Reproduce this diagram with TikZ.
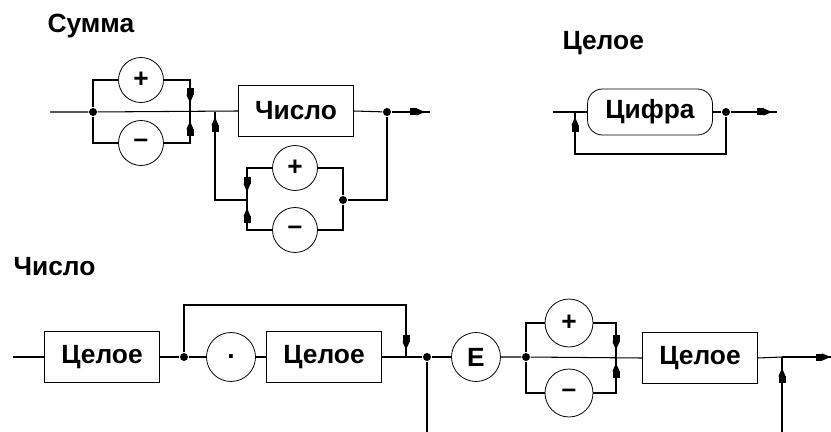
\documentclass[tikz,border=0pt]{standalone}
\usepackage{fontspec}
\setmainfont{Liberation Sans}
\usetikzlibrary{arrows.meta,decorations.markings}

\begin{document}
\begin{tikzpicture}[x=0.02cm, y=-0.02cm, line width=0.6pt, font=\fontsize{15}{18}\selectfont\bfseries]
\tikzset{
  termbox/.style={draw, rectangle, minimum width=2.3cm, minimum height=1.01cm, inner sep=0pt},
  litcirc/.style={draw, circle, minimum size=0.9cm, inner sep=0pt, line width=0.45pt},
  litround/.style={draw, rectangle, rounded corners=0.3cm, minimum width=2.5cm, minimum height=0.92cm, inner sep=0pt, line width=0.45pt},
  junct/.style={circle, fill, minimum size=0.16cm, inner sep=0pt},
  headline/.style={anchor=base west, inner sep=0pt},
  midtip/.style={postaction={decorate}, decoration={markings, mark=at position #1 with {\arrow{Square[length=1.3mm, width=1.4mm, sep=0pt] Triangle[length=1.7mm, width=1.4mm]}}}}
}
\useasboundingbox (0,0) rectangle (831,432);

\node[headline] (sT) at (47,33) {Сумма};
\coordinate (s0) at (50,112);
\node[junct] (sA) at (93,112) {};
\node[litcirc] (sP) at (141,80) {+};
\node[litcirc] (sM) at (141,143) {–};
\coordinate (sB) at (190,112);
\coordinate (sJ) at (215,112);
\node[termbox] (sN) at (296,111) {Число};
\node[junct] (sC) at (387,112) {};
\coordinate (sE) at (430,112);
\node[junct] (sD) at (343,200) {};
\node[litcirc] (sP2) at (295,168) {+};
\node[litcirc] (sM2) at (295,230) {–};
\coordinate (sF) at (247,200);

\draw (s0) -- (sA) -- (sN.west);
\draw (sA) |- (sP.west);
\draw (sA) |- (sM.west);
\draw[midtip=-0.18cm] (sP.east) -| (sB);
\draw[midtip=-0.18cm] (sM.east) -| (sB);
\draw (sN.east) -- (sC);
\draw[midtip=-0.1cm] (sC) -- (sE);
\draw (sC) |- (sD);
\draw (sD) |- (sP2.east);
\draw (sD) |- (sM2.east);
\draw[midtip=-0.16cm] (sP2.west) -| (sF);
\draw[midtip=-0.16cm] (sM2.west) -| (sF);
\draw[midtip=-0.1cm] (sF) -| (sJ);

\node[headline] (cT) at (562,50) {Целое};
\coordinate (c0) at (553,112);
\coordinate (cJ) at (575,112);
\node[litround] (cD) at (650,112) {Цифра};
\node[junct] (cA) at (726,112) {};
\coordinate (cE) at (777,112);

\draw (c0) -- (cD.west);
\draw (cD.east) -- (cA);
\draw[midtip=-0.1cm] (cA) -- (cE);
\draw[midtip=-0.1cm] (cA) -- ++(0,42) -| (cJ);

\node[headline] (nT) at (13,275) {Число};
\coordinate (n0) at (13,357);
\node[termbox] (nA) at (102,357) {Целое};
\node[junct] (nB) at (184,357) {};
\node[litcirc, minimum size=0.98cm] (nP) at (231,357) {.};
\node[termbox] (nC) at (324,357) {Целое};
\coordinate (nJ) at (406,357);
\node[junct] (nK) at (427,357) {};
\coordinate (nKd) at (427,432);
\node[litcirc, minimum size=0.98cm] (nE) at (476,357) {E};
\node[junct] (nL) at (526,357) {};
\node[litcirc, minimum size=0.96cm] (nSp) at (569,323) {+};
\node[litcirc, minimum size=0.96cm] (nSm) at (569,393) {–};
\coordinate (nR) at (616,357);
\node[termbox] (nF) at (700,358) {Целое};
\coordinate (nS) at (782,357);
\coordinate (nSd) at (782,432);
\coordinate (nEnd) at (831,357);

\draw (n0) -- (nA.west);
\draw (nA.east) -- (nB) -- (nP.west);
\draw (nP.east) -- (nC.west);
\draw (nC.east) -- (nK) -- (nE.west);
\draw[midtip=-0.14cm] (nB) -- ++(0,-52) -| (nJ);
\draw (nK) -- (nKd);
\draw (nE.east) -- (nL) -- (nF.west);
\draw (nL) |- (nSp.west);
\draw (nL) |- (nSm.west);
\draw[midtip=-0.14cm] (nSp.east) -| (nR);
\draw[midtip=-0.12cm] (nSm.east) -| (nR);
\draw (nF.east) -- (nS);
\draw[midtip=-0.22cm] (nSd) -- (nS);
\draw[midtip=-0.01cm] (nS) -- (nEnd);
\end{tikzpicture}
\end{document}
